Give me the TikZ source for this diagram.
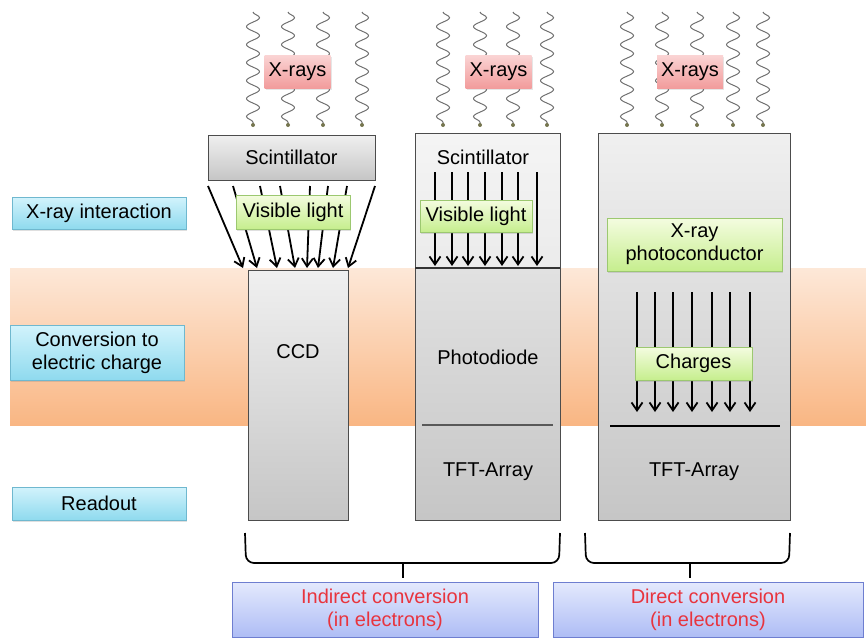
\documentclass[tikz,border=0pt]{standalone}
\usepackage{fontspec}
\setmainfont{Liberation Sans}
\usetikzlibrary{arrows.meta,decorations.pathmorphing,shadows}

\definecolor{bandtop}{HTML}{FDE8D8}
\definecolor{bandbot}{HTML}{F9B683}
\definecolor{cyantop}{HTML}{D2F3FC}
\definecolor{cyanbot}{HTML}{8FDAEE}
\definecolor{cyanedge}{HTML}{6FB8CF}
\definecolor{greentop}{HTML}{F4FCE0}
\definecolor{greenbot}{HTML}{C6EE8E}
\definecolor{greenedge}{HTML}{9CC870}
\definecolor{pinktop}{HTML}{FAD4D4}
\definecolor{pinkbot}{HTML}{F29C9C}
\definecolor{bluetop}{HTML}{E4E9FD}
\definecolor{bluebot}{HTML}{AEBDF5}
\definecolor{blueedge}{HTML}{6E7ED0}
\definecolor{convred}{HTML}{E8343E}
\definecolor{wavegray}{HTML}{707070}

\tikzset{
  stage/.style={draw=cyanedge, top color=cyantop, bottom color=cyanbot, minimum width=174,
    align=center, inner sep=1pt, drop shadow={shadow xshift=1pt, shadow yshift=-1.5pt, opacity=0.25}},
  xlabel/.style={top color=pinktop, bottom color=pinkbot, minimum width=66, minimum height=33, inner sep=2pt,
    drop shadow={shadow xshift=1pt, shadow yshift=-1.5pt, opacity=0.2}},
  glabel/.style={draw=greenedge, top color=greentop, bottom color=greenbot, align=center, inner sep=1pt,
    drop shadow={shadow xshift=1pt, shadow yshift=-1.5pt, opacity=0.25}},
  layer/.style={draw=black!70, line width=0.9pt, top color=gray!12, bottom color=gray!45},
  convbox/.style={draw=blueedge, top color=bluetop, bottom color=bluebot, text=convred,
    align=center, minimum height=55},
  wave/.style={draw=wavegray, line width=1pt, decorate,
    decoration={snake, segment length=18, amplitude=6.5}},
  ray/.style={line width=1.8pt, -{Straight Barb[length=8pt,width=11pt]}},
  brace/.style={line width=1.7pt, rounded corners=8},
}

\begin{document}
\begin{tikzpicture}[x=1pt, y=-1pt, font=\fontsize{20}{23}\selectfont]
	\useasboundingbox (0,0) rectangle (866,637);
	% orange band
	\shade[top color=bandtop, bottom color=bandbot] (10,268) rectangle (866,425);
	% stages
	\node[stage, minimum height=32] (sInter) at (99,213) {X-ray interaction};
	\node[stage, minimum height=55] (sConv) at (97,352.5) {Conversion to\\electric charge};
	\node[stage, minimum height=33] (sRead) at (99,503.5) {Readout};

	% CCD column
	\foreach \x in {253,288,323,362}{
		\coordinate (wa\x) at (\x,12);
		\coordinate (ea\x) at (\x,125);
		\draw[wave] (wa\x) -- (ea\x);
		\fill[wavegray!70!olive] (ea\x) circle (2);
	}
	\node[xlabel] (xA) at (297.5,71.5) {X-rays};
	\node[layer, minimum width=167, minimum height=45] (scA) at (291.5,157.5) {Scintillator};
	\node[layer, minimum width=100, minimum height=250, anchor=north] (ccd) at (298,270) {};
	\node (ccdT) at (298,352) {CCD};
	\foreach \sx/\ex in {208/243, 233/257, 260/277, 280/295, 310/307, 328/318, 347/333, 375/348}
		\draw[ray] (\sx,186) -- (\ex,268);
	\node[glabel, minimum width=114, minimum height=34] (visA) at (293,212) {Visible light};

	% photodiode column
	\foreach \x in {443,480,513,547}{
		\coordinate (wb\x) at (\x,12);
		\coordinate (eb\x) at (\x,125);
		\draw[wave] (wb\x) -- (eb\x);
		\fill[wavegray!70!olive] (eb\x) circle (2);
	}
	\node[xlabel] (xB) at (498.5,71.5) {X-rays};
	\node[layer, minimum width=145, minimum height=387, anchor=north west] (colB) at (415,133) {};
	\fill[white, opacity=0.35] (415.5,133.5) rectangle (559.5,267.5);
	\draw[line width=1.2pt, black!80] (415,268) -- (560,268);
	\draw[line width=1.8pt, black!65] (422,425) -- (553,425);
	\node (scB) at (483,157) {Scintillator};
	\foreach \x in {435,452,468,485,502,518,537}
		\draw[ray] (\x,172) -- (\x,266);
	\node[glabel, minimum width=112, minimum height=32] (visB) at (476,216) {Visible light};
	\node (pd) at (488,357) {Photodiode};
	\node (tftB) at (488,472) {TFT-Array};

	% direct column
	\foreach \x in {627,662,697,733,763}{
		\coordinate (wc\x) at (\x,12);
		\coordinate (ec\x) at (\x,125);
		\draw[wave] (wc\x) -- (ec\x);
		\fill[wavegray!70!olive] (ec\x) circle (2);
	}
	\node[xlabel] (xC) at (690,71.5) {X-rays};
	\node[layer, minimum width=192, minimum height=387, anchor=north west] (colC) at (598,133) {};
	\node[glabel, minimum width=175, minimum height=53] (pc) at (694.5,244.5) {X-ray\\photoconductor};
	\foreach \x in {637,655,673,692,712,730,750}
		\draw[ray] (\x,292) -- (\x,412);
	\node[glabel, minimum width=117, minimum height=33] (chg) at (693.5,363.5) {Charges};
	\draw[line width=1.5pt] (610,426) -- (780,426);
	\node (tftC) at (694,472) {TFT-Array};

	% braces
	\draw[brace] (245,533) -- (246,563) -- (559,563) -- (560,533);
	\draw[line width=1.7pt] (403,563) -- (403,578);
	\draw[brace] (585,533) -- (586,563) -- (789,563) -- (790,533);
	\draw[line width=1.7pt] (690,563) -- (690,578);

	% conversion types
	\node[convbox, minimum width=306] (indir) at (385,609.5) {Indirect conversion\\(in electrons)};
	\node[convbox, minimum width=310] (dir) at (708,609.5) {Direct conversion\\(in electrons)};
\end{tikzpicture}
\end{document}
